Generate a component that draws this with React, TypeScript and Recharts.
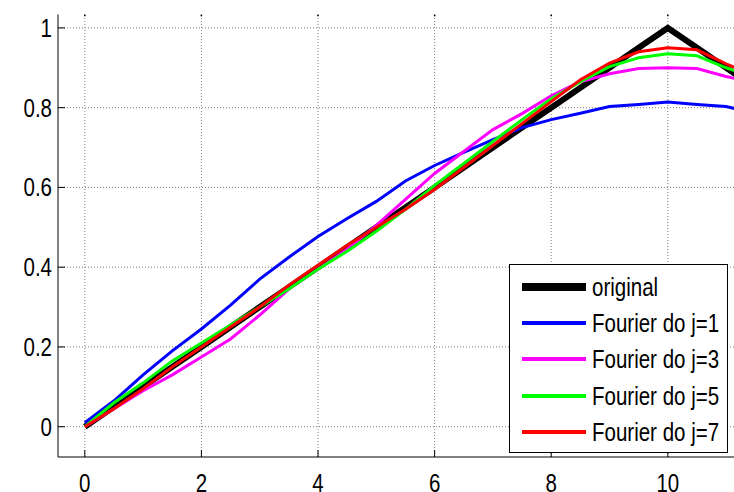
import { LineChart, Line, XAxis, YAxis, ReferenceLine } from "recharts";

const xs = [0, 0.5, 1, 1.5, 2, 2.5, 3, 3.5, 4, 4.5, 5, 5.5, 6, 6.5, 7, 7.5, 8, 8.5, 9, 9.5, 10, 10.5, 11, 11.5];

const original = [0, 0.05, 0.1, 0.15, 0.2, 0.25, 0.3, 0.35, 0.4, 0.45, 0.5, 0.55, 0.6, 0.65, 0.7, 0.75, 0.8, 0.85, 0.9, 0.95, 1, 0.95, 0.9, 0.85];
const fourier1 = [0.01, 0.065, 0.13, 0.19, 0.245, 0.305, 0.37, 0.425, 0.477, 0.522, 0.565, 0.616, 0.655, 0.688, 0.72, 0.75, 0.77, 0.786, 0.803, 0.808, 0.814, 0.808, 0.803, 0.785];
const fourier3 = [0, 0.045, 0.09, 0.13, 0.175, 0.22, 0.28, 0.345, 0.395, 0.445, 0.505, 0.57, 0.635, 0.69, 0.745, 0.785, 0.83, 0.865, 0.885, 0.898, 0.9, 0.898, 0.878, 0.862];
const fourier5 = [0, 0.06, 0.11, 0.165, 0.21, 0.255, 0.3, 0.345, 0.395, 0.44, 0.49, 0.545, 0.605, 0.66, 0.715, 0.77, 0.822, 0.865, 0.903, 0.925, 0.935, 0.93, 0.9, 0.875];
const fourier7 = [0, 0.045, 0.095, 0.15, 0.2, 0.25, 0.3, 0.355, 0.405, 0.455, 0.5, 0.545, 0.595, 0.65, 0.705, 0.76, 0.815, 0.87, 0.912, 0.94, 0.95, 0.945, 0.91, 0.88];

const xTicks = [0, 2, 4, 6, 8, 10];
const yTicks = [0, 0.2, 0.4, 0.6, 0.8, 1];

const series = [
  { key: "original", name: "original", color: "#000000", width: 6, legendWidth: 8 },
  { key: "f1", name: "Fourier do j=1", color: "#0000ff", width: 3, legendWidth: 4 },
  { key: "f3", name: "Fourier do j=3", color: "#ff00ff", width: 3, legendWidth: 4 },
  { key: "f5", name: "Fourier do j=5", color: "#00ff00", width: 3, legendWidth: 4 },
  { key: "f7", name: "Fourier do j=7", color: "#ff0000", width: 3, legendWidth: 4 },
];

const data = xs.map((x, i) => ({
  x,
  original: original[i],
  f1: fourier1[i],
  f3: fourier3[i],
  f5: fourier5[i],
  f7: fourier7[i],
}));

const FONT = "'Liberation Sans', Arial, sans-serif";
const SQUEEZE = 0.82;
const FS = 25;

// the reference font is a tall narrow sans: squeeze the text horizontally
const XTick = (props: any) => {
  const { x, y, payload } = props;
  return (
    <text
      x={x}
      y={y + 18}
      textAnchor="middle"
      fontSize={FS}
      fontFamily={FONT}
      fill="#000"
      transform={`translate(${x},0) scale(${SQUEEZE},1) translate(${-x},0)`}
    >
      {payload.value}
    </text>
  );
};

const YTick = (props: any) => {
  const { x, y, payload } = props;
  return (
    <text
      x={x}
      y={y + 9}
      textAnchor="end"
      fontSize={FS}
      fontFamily={FONT}
      fill="#000"
      transform={`translate(${x},0) scale(${SQUEEZE},1) translate(${-x},0)`}
    >
      {payload.value}
    </text>
  );
};

const gridStyle = { stroke: "#808080", strokeDasharray: "1 2", strokeWidth: 1 };

export default function App() {
  return (
    <div style={{ position: "absolute", left: 0, top: 0, width: 734, height: 492, overflow: "hidden", background: "#fff" }}>
      <LineChart
        width={742}
        height={492}
        data={data}
        margin={{ top: 14.5, right: 3, bottom: 34, left: 57 }}
      >
        {xTicks.map((t) => (
          <ReferenceLine key={"gx" + t} x={t} {...gridStyle} />
        ))}
        {yTicks.map((t) => (
          <ReferenceLine key={"gy" + t} y={t} {...gridStyle} />
        ))}
        {/* short top tick stubs */}
        {xTicks.map((t) => (
          <ReferenceLine
            key={"tt" + t}
            segment={[{ x: t, y: 1.0336 }, { x: t, y: 1.029 }]}
            stroke="#000"
            strokeWidth={1.5}
          />
        ))}
        <XAxis
          dataKey="x"
          type="number"
          domain={[-0.46, 11.204]}
          ticks={xTicks}
          allowDataOverflow
          height={1}
          tickSize={-7}
          tickMargin={24}
          tick={<XTick />}
          axisLine={{ stroke: "#000" }}
          tickLine={{ stroke: "#000" }}
        />
        <YAxis
          type="number"
          domain={[-0.076, 1.0336]}
          ticks={yTicks}
          allowDataOverflow
          width={1}
          tickSize={-7}
          tickMargin={13}
          tick={<YTick />}
          axisLine={{ stroke: "#000" }}
          tickLine={{ stroke: "#000" }}
        />
        <YAxis
          yAxisId="r"
          orientation="right"
          type="number"
          domain={[-0.076, 1.0336]}
          ticks={yTicks}
          allowDataOverflow
          width={1}
          tickSize={-7}
          tick={false}
          axisLine={{ stroke: "#000" }}
          tickLine={{ stroke: "#000" }}
        />
        {series.map((s) => (
          <Line
            key={s.key}
            dataKey={s.key}
            name={s.name}
            stroke={s.color}
            strokeWidth={s.width}
            dot={false}
            activeDot={false}
            isAnimationActive={false}
            strokeLinejoin="miter"
          />
        ))}
      </LineChart>
      <div
        style={{
          position: "absolute",
          left: 508.5,
          top: 264,
          width: 219,
          height: 189,
          boxSizing: "border-box",
          border: "1px solid #000",
          background: "#fff",
          fontFamily: FONT,
          fontSize: FS,
          color: "#000",
        }}
      >
        {series.map((s, i) => (
          <div key={s.key} style={{ position: "absolute", left: 0, top: 21.7 + i * 36.3 - 18, height: 36, width: 219 }}>
            <span style={{ position: "absolute", left: 12, width: 64, height: s.legendWidth, top: 18 - s.legendWidth / 2, background: s.color }} />
            <span
              style={{
                position: "absolute",
                left: 82,
                top: 0,
                lineHeight: "36px",
                whiteSpace: "nowrap",
                transform: `scaleX(${SQUEEZE})`,
                transformOrigin: "left center",
              }}
            >
              {s.name}
            </span>
          </div>
        ))}
      </div>
    </div>
  );
}
